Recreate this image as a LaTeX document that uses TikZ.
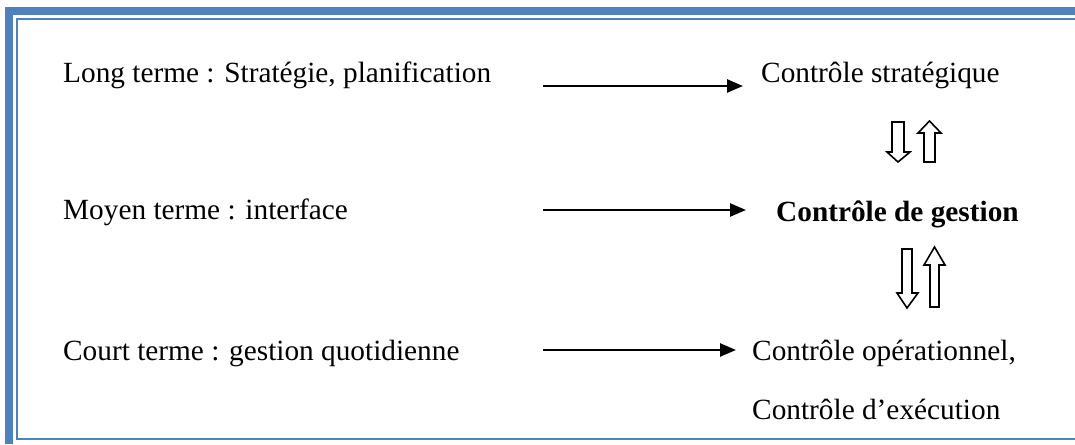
\documentclass[tikz,border=0pt]{standalone}
\usepackage{fontspec}
\setmainfont{Liberation Serif}
\usetikzlibrary{arrows.meta}
\definecolor{frameblue}{HTML}{4F81BD}
\tikzset{
  lbl/.style={anchor=base west, inner sep=0pt, font=\fontsize{29.3}{35}\selectfont},
  link/.style={line width=2.5pt, -{Triangle[length=16pt,width=13pt]}},
  hollow/.style={draw=black, line width=1.6pt, fill=white, line join=miter}
}
\begin{document}
\begin{tikzpicture}[x=1pt,y=-1pt]
\useasboundingbox (0,0) rectangle (1075,444);
% double frame along top, left and bottom
\fill[frameblue] (5,7.5) rectangle (1075,15);
\fill[frameblue] (5,7.5) rectangle (13,444);
\fill[frameblue] (15.5,18) rectangle (1075,20.5);
\fill[frameblue] (15.5,18) rectangle (18,440);
\fill[frameblue] (15.5,437.5) rectangle (1075,440);

% horizon labels
\node[lbl] (lt) at (63,82) {Long terme : Stratégie, planification};
\node[lbl] (mt) at (63,219) {Moyen terme : interface};
\node[lbl] (ct) at (63,360) {Court terme : gestion quotidienne};

% control levels
\node[lbl] (cs) at (761,82) {Contrôle stratégique};
\node[lbl, font=\fontsize{29.3}{35}\selectfont\bfseries] (cg) at (776,221) {Contrôle de gestion};
\node[lbl] (co) at (752,360) {Contrôle opérationnel,};
\node[lbl] (ce) at (752,419) {Contrôle d’exécution};

% arrow start and end points
\coordinate (s1) at (543,86);
\coordinate (e1) at (743,86);
\coordinate (s2) at (543,210);
\coordinate (e2) at (746,210);
\coordinate (s3) at (543,350);
\coordinate (e3) at (736,350);
\draw[link] (s1) -- (e1);
\draw[link] (s2) -- (e2);
\draw[link] (s3) -- (e3);

% hollow arrows between strategic control and management control
\draw[hollow] (892,122) -- (904,122) -- (904,152) -- (910,152) -- (898,162) -- (887,152) -- (892,152) -- cycle;
\draw[hollow] (924,162) -- (935,162) -- (935,133) -- (941,133) -- (929.5,121) -- (918,133) -- (924,133) -- cycle;

% hollow arrows between management control and operational control
\draw[hollow] (902,249) -- (912,249) -- (912,293) -- (918,293) -- (907,308) -- (897,293) -- (902,293) -- cycle;
\draw[hollow] (930,307) -- (939,307) -- (939,265) -- (945,265) -- (934.5,247) -- (924,265) -- (930,265) -- cycle;
\end{tikzpicture}
\end{document}
